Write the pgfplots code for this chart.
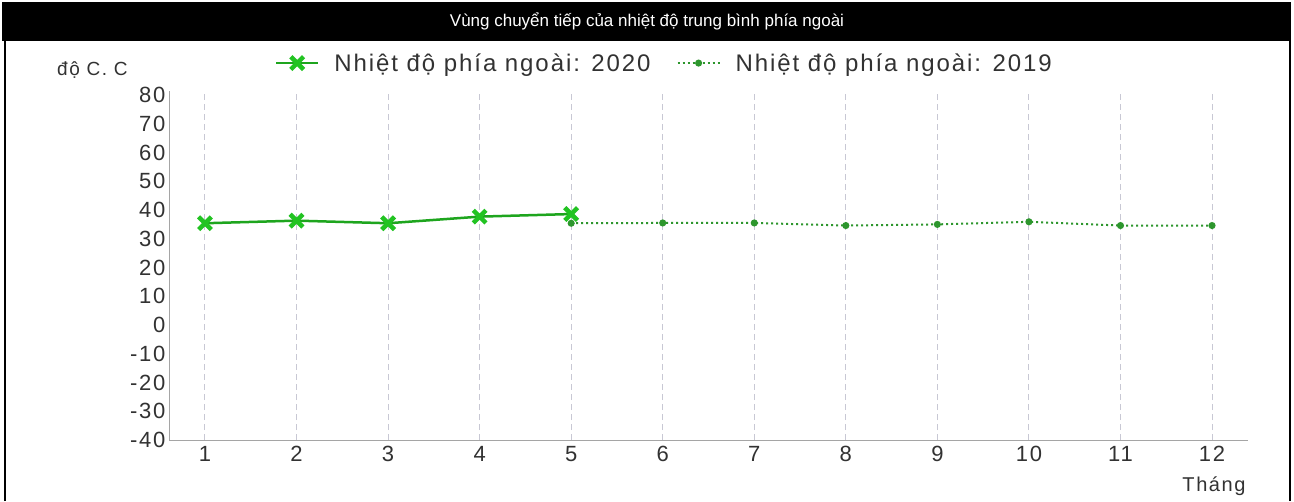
\documentclass[border=0pt]{standalone}
\usepackage{fontspec}
\setmainfont{Liberation Sans}
\newfontfamily\legfont[LetterSpace=8]{Liberation Sans}
\usepackage{pgfplots}
\pgfplotsset{compat=1.18}
\definecolor{grn}{RGB}{34,195,34}
\definecolor{grnline}{RGB}{30,165,30}
\definecolor{grndot}{RGB}{45,150,45}
\definecolor{gridc}{RGB}{200,200,212}
\definecolor{axc}{RGB}{165,165,165}
\definecolor{txt}{RGB}{50,50,50}
\begin{document}
\begin{tikzpicture}[x=1pt,y=1pt]
\useasboundingbox (0,0) rectangle (1294,501);
\fill[white] (0,0) rectangle (1294,501);
\fill[black] (2,460) rectangle (1291,499);
\draw[black,line width=1.5pt] (5,0) -- (5,460);
\draw[black,line width=1.5pt] (1290,0) -- (1290,460);
\node[white,font=\fontsize{17}{20}\selectfont] at (647,480) {Vùng chuyển tiếp của nhiệt độ trung bình phía ngoài};
\node[txt,anchor=west,inner sep=0pt,font=\legfont\fontsize{19}{22}\selectfont] at (57,431) {độ C. C};
\node[txt,inner sep=0pt,font=\legfont\fontsize{20}{24}\selectfont] at (1214,15) {Tháng};
\begin{axis}[
  at={(169pt,61pt)}, anchor=south west,
  scale only axis, width=1079pt, height=349pt,
  xmin=0.607, xmax=12.393, ymin=-40, ymax=81.4,
  xtick={1,...,12}, ytick={-40,-30,...,80},
  axis x line*=bottom, axis y line*=left,
  axis line style={axc,line width=1pt},
  major tick length=0pt,
  xmajorgrids,
  major grid style={gridc,line width=1pt,dash pattern=on 6pt off 4pt},
  tick label style={txt,font=\legfont\fontsize{22}{26}\selectfont},
  xticklabel style={yshift=-3pt},
  /pgf/number format/assume math mode=true,
  legend columns=2,
  legend style={draw=none,fill=none,inner sep=0pt,
    at={(0.098,1.08)},anchor=west,
    font=\legfont\fontsize{24}{28}\selectfont,text=txt,
    /tikz/every odd column/.append style={column sep=13pt},
    /tikz/every even column/.append style={column sep=24pt}},
  legend image code/.code={\draw[mark repeat=2,mark phase=2,#1] plot coordinates {(0pt,0pt) (21pt,0pt) (42pt,0pt)};},
]
\addplot[grnline,line width=2.5pt,mark=x,mark size=9pt,mark options={grn,line width=4.5pt}]
  coordinates {(1,35.4) (2,36.3) (3,35.4) (4,37.7) (5,38.6)};
\addlegendentry{Nhiệt độ phía ngoài: 2020}
\addplot[grndot,line width=2pt,dash pattern=on 2pt off 3pt,mark=*,mark size=2.5pt,mark options={solid}]
  coordinates {(5,35.4) (6,35.5) (7,35.5) (8,34.6) (9,35.0) (10,35.9) (11,34.6) (12,34.6)};
\addlegendentry{Nhiệt độ phía ngoài: 2019}
\end{axis}
\end{tikzpicture}
\end{document}
